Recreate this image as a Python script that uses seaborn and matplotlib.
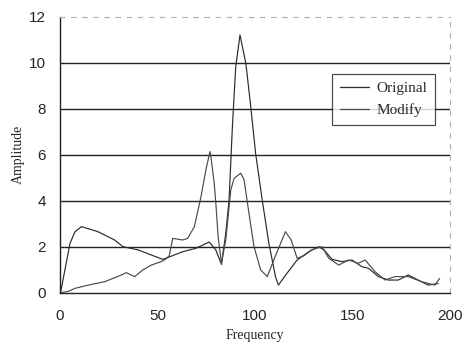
import numpy as np
import pandas as pd
import matplotlib
matplotlib.use("Agg")
import matplotlib.pyplot as plt
import seaborn as sns

# ---- data ----
orig_x = [0, 0.5, 3, 5.1, 7.7, 11, 19.5, 28, 32.3, 40, 46.8, 52.7, 54.4, 62.9, 69.7,
          76.5, 79.9, 82.8, 85, 86.7, 88.4, 90.1, 92.3, 95.3, 97.8, 100.3, 103.7,
          107.1, 110.5, 112, 116, 121.6, 127.6, 132.7, 135.5, 139.5, 144.6, 149.7,
          154.8, 158.2, 163.3, 168.4, 173.5, 178.6, 183.7, 188.8, 193.9]
orig_y = [0, 0.1, 1.2, 2.14, 2.65, 2.87, 2.65, 2.29, 2.0, 1.86, 1.64, 1.45, 1.5,
          1.78, 1.93, 2.2, 1.86, 1.23, 2.58, 4.03, 7.2, 9.8, 11.2, 9.97, 8.1, 6.06,
          4.03, 2.15, 0.7, 0.33, 0.8, 1.42, 1.78, 2.0, 1.85, 1.45, 1.35, 1.42, 1.13,
          1.06, 0.7, 0.55, 0.55, 0.77, 0.55, 0.33, 0.4]

mod_x = [0, 4, 7.7, 14.5, 23, 31.5, 34, 38.3, 42.5, 46.8, 51.9, 54, 56, 57.8, 62.9,
         65.5, 68.9, 72.3, 74.8, 76.9, 77.4, 79.1, 79.9, 81.1, 82.8, 85, 87.6, 89.3,
         92.7, 94.4, 96.9, 99.5, 102.9, 106.3, 110, 115.6, 118.5, 121.6, 125, 129,
         134.3, 137.8, 142.9, 148, 153, 156.5, 161.6, 166.7, 171.8, 178.6, 185.4,
         192.2, 194.7]
mod_y = [0, 0.05, 0.19, 0.33, 0.48, 0.77, 0.87, 0.7, 0.99, 1.2, 1.35, 1.45, 1.6,
         2.36, 2.29, 2.36, 2.87, 4.17, 5.33, 6.13, 5.9, 4.75, 3.9, 2.43, 1.28, 2.29,
         4.47, 4.97, 5.19, 4.9, 3.45, 2.0, 0.99, 0.7, 1.5, 2.65, 2.3, 1.5, 1.6, 1.86,
         2.0, 1.5, 1.2, 1.42, 1.28, 1.42, 0.91, 0.55, 0.7, 0.7, 0.48, 0.33, 0.62]

x_ticks = [0, 50, 100, 150, 200]
y_ticks = [0, 2, 4, 6, 8, 10, 12]
series_names = ["Original", "Modify"]

df = pd.concat([
    pd.DataFrame({"Frequency": orig_x, "Amplitude": orig_y, "series": series_names[0]}),
    pd.DataFrame({"Frequency": mod_x, "Amplitude": mod_y, "series": series_names[1]}),
])

sns.set_theme(style="white")
plt.rcParams["font.family"] = ["Liberation Serif", "DejaVu Serif"]

fig = plt.figure(figsize=(4.66, 3.43), dpi=100)
ax = fig.add_axes([60 / 466, 50.3 / 343, 390 / 466, 276.2 / 343])

for name, col in zip(series_names, ["#2a2a2a", "#4a4a4a"]):
    sub = df[df["series"] == name]
    sns.lineplot(data=sub, x="Frequency", y="Amplitude", ax=ax, color=col,
                 linewidth=0.85, label=name, sort=False, estimator=None)

ax.set_xlim(0, 200)
ax.set_ylim(0, 12)
ax.set_xticks(x_ticks)
ax.set_yticks(y_ticks)
ax.set_xticklabels([str(t) for t in x_ticks], fontfamily="Liberation Sans", fontsize=11)
ax.set_yticklabels([str(t) for t in y_ticks], fontfamily="Liberation Sans", fontsize=11)
ax.tick_params(axis="x", direction="in", length=3, pad=12, color="#555555")
ax.tick_params(axis="y", length=0, pad=10)

for yv in [2, 4, 6, 8, 10]:
    ax.axhline(yv, color="#222222", linewidth=1.0, zorder=0)

for s in ["left", "bottom"]:
    ax.spines[s].set_color("#222222")
    ax.spines[s].set_linewidth(1.0)
for s in ["top", "right"]:
    ax.spines[s].set_color("#b0b0b0")
    ax.spines[s].set_linewidth(0.8)
    ax.spines[s].set_linestyle((0, (4, 6)))

ax.set_xlabel("Frequency", fontsize=10, labelpad=4)
ax.set_ylabel("Amplitude", fontsize=10, labelpad=3)

leg = ax.legend(loc="upper right", bbox_to_anchor=(0.962, 0.792), fontsize=11,
                frameon=True, fancybox=False, handlelength=1.9, handletextpad=0.5,
                borderpad=0.5, labelspacing=0.55, borderaxespad=0)
leg.get_frame().set_edgecolor("#222222")
leg.get_frame().set_linewidth(0.9)
for line in leg.get_lines():
    line.set_linewidth(0.9)

fig.savefig("out.png", dpi=100)
